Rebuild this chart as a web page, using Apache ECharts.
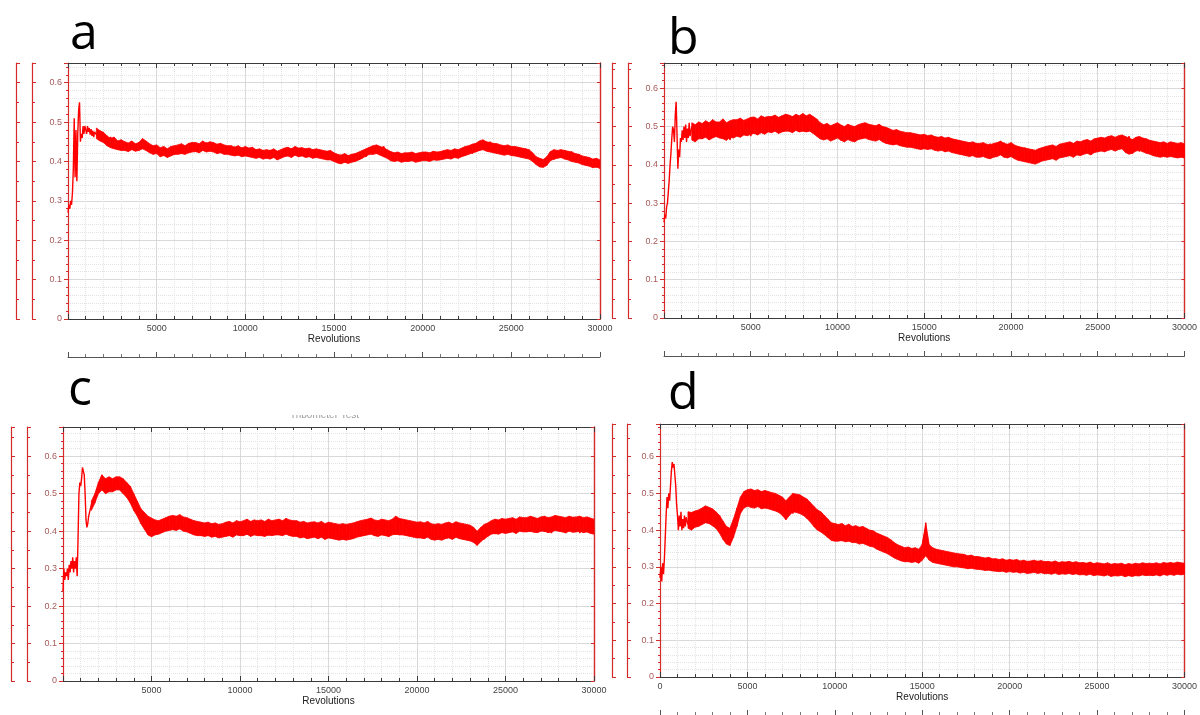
<!DOCTYPE html>
<html>
<head>
<meta charset="utf-8">
<script src="https://cdn.jsdelivr.net/npm/echarts@6/dist/echarts.min.js"></script>
<style>html,body{margin:0;padding:0;background:#fff;}#chart{width:1200px;height:715px;}</style>
</head>
<body>
<div id="chart"></div>
<script>
// Sampling grid (revolutions)
const revsEarly = Array.from({length: 31}, (_, i) => i * 50);        // 0..1500
const revsMain = Array.from({length: 143}, (_, i) => 1600 + i * 200); // 1600..30000
const revs = revsEarly.concat(revsMain);

const panelLabels = ['a', 'b', 'c', 'd'];
const xTicks = [0, 5000, 10000, 15000, 20000, 25000, 30000];
const yTicks = [0, 0.1, 0.2, 0.3, 0.4, 0.5, 0.6];
const xName = 'Revolutions';
const titleC = 'Tribometer Test';

// ---------- Panel a ----------
const aEarly = [0.27,0.29,0.28,0.30,0.29,0.32,0.38,0.51,0.36,0.48,0.35,0.47,0.53,0.55,0.45,0.47,0.46,0.49,0.47,0.49,0.48,0.47,0.49,0.475,0.485,0.468,0.482,0.465,0.478,0.462,0.475];
const aMain = [
 0.478,0.455,0.47,
 0.448,0.462,0.438,0.452,0.432, 0.446,0.428,0.445,0.432,0.447, 0.452,0.43,0.44,0.425,0.438,
 0.418,0.434,0.415,0.43,0.418, 0.436,0.42,0.438,0.422,0.44, 0.425,0.442,0.428,0.448,0.43,
 0.445,0.425,0.44,0.422,0.438, 0.42,0.437,0.418,0.435,0.42, 0.432,0.415,0.43,0.413,0.428,
 0.41,0.428,0.412,0.426,0.411, 0.43,0.414,0.433,0.417,0.432, 0.415,0.432,0.418,0.43,0.414,
 0.428,0.41,0.425,0.408,0.42, 0.4,0.416,0.398,0.414,0.402, 0.418,0.405,0.425,0.412,0.43,
 0.42,0.44,0.425,0.438,0.418, 0.422,0.405,0.42,0.402,0.418, 0.405,0.42,0.403,0.418,0.406,
 0.42,0.404,0.422,0.407,0.42, 0.41,0.426,0.412,0.428,0.413, 0.43,0.415,0.435,0.42,0.44,
 0.428,0.448,0.432,0.45,0.43, 0.44,0.422,0.438,0.42,0.436, 0.418,0.434,0.415,0.432,0.418,
 0.41,0.395,0.405,0.388,0.4, 0.422,0.405,0.425,0.41,0.428, 0.41,0.425,0.405,0.418,0.398,
 0.408,0.39,0.405,0.385,0.398
];
const aHi = [
 0.485,0.478,0.474,
 0.465,0.458,0.462,0.452,0.455, 0.45,0.447,0.452,0.445,0.448, 0.458,0.452,0.445,0.44,0.442,
 0.435,0.438,0.432,0.438,0.44, 0.442,0.445,0.44,0.446,0.448, 0.448,0.445,0.452,0.446,0.45,
 0.448,0.444,0.446,0.442,0.44, 0.44,0.436,0.44,0.434,0.438, 0.434,0.436,0.43,0.432,0.428,
 0.43,0.428,0.432,0.426,0.43, 0.434,0.436,0.432,0.438,0.434, 0.435,0.432,0.434,0.43,0.432,
 0.43,0.428,0.426,0.428,0.422, 0.418,0.416,0.42,0.415,0.418, 0.42,0.424,0.428,0.432,0.436,
 0.44,0.442,0.438,0.435,0.43, 0.425,0.422,0.424,0.42,0.422, 0.422,0.424,0.42,0.422,0.424,
 0.424,0.422,0.426,0.424,0.425, 0.428,0.43,0.428,0.432,0.43, 0.434,0.438,0.44,0.444,0.446,
 0.452,0.455,0.45,0.448,0.446, 0.445,0.442,0.44,0.442,0.438, 0.438,0.436,0.434,0.432,0.43,
 0.422,0.412,0.408,0.405,0.412, 0.425,0.43,0.428,0.43,0.428, 0.426,0.424,0.42,0.418,0.414,
 0.412,0.41,0.406,0.408,0.404
];
const aLo = [
 0.458,0.452,0.448,
 0.44,0.435,0.432,0.43,0.428, 0.428,0.425,0.43,0.426,0.428, 0.432,0.428,0.422,0.418,0.42,
 0.412,0.415,0.41,0.414,0.418, 0.418,0.42,0.418,0.422,0.424, 0.425,0.422,0.428,0.424,0.426,
 0.424,0.42,0.422,0.418,0.418, 0.416,0.414,0.416,0.412,0.414, 0.412,0.41,0.408,0.41,0.406,
 0.408,0.406,0.41,0.404,0.408, 0.412,0.414,0.41,0.416,0.412, 0.414,0.41,0.412,0.408,0.41,
 0.408,0.406,0.404,0.404,0.4, 0.396,0.394,0.398,0.395,0.398, 0.4,0.404,0.408,0.414,0.418,
 0.418,0.42,0.416,0.412,0.408, 0.402,0.4,0.402,0.398,0.4, 0.4,0.402,0.398,0.4,0.402,
 0.402,0.4,0.404,0.403,0.404, 0.406,0.408,0.406,0.41,0.408, 0.412,0.415,0.418,0.422,0.424,
 0.428,0.43,0.426,0.424,0.422, 0.42,0.418,0.416,0.418,0.415, 0.414,0.412,0.41,0.408,0.406,
 0.4,0.392,0.386,0.385,0.39, 0.402,0.406,0.408,0.41,0.406, 0.404,0.4,0.398,0.396,0.392,
 0.39,0.388,0.384,0.386,0.382
];

// ---------- Panel b ----------
const bEarly = [0.25,0.27,0.26,0.29,0.30,0.33,0.36,0.40,0.43,0.47,0.50,0.49,0.46,0.53,0.565,0.48,0.39,0.44,0.42,0.47,0.46,0.49,0.465,0.50,0.47,0.505,0.46,0.495,0.47,0.51,0.475];
const bMain = [
 0.5,0.47,0.51,
 0.468,0.508,0.472,0.515,0.475, 0.51,0.47,0.505,0.465,0.5, 0.478,0.515,0.48,0.512,0.475,
 0.518,0.482,0.52,0.485,0.515, 0.49,0.522,0.488,0.525,0.492, 0.52,0.49,0.527,0.488,0.522,
 0.492,0.523,0.49,0.515,0.475, 0.5,0.468,0.498,0.47,0.502, 0.465,0.495,0.468,0.498,0.466,
 0.5,0.47,0.505,0.472,0.502, 0.47,0.5,0.468,0.495,0.465, 0.488,0.458,0.485,0.455,0.482,
 0.452,0.48,0.45,0.478,0.448, 0.472,0.445,0.47,0.444,0.468, 0.44,0.466,0.442,0.465,0.438,
 0.46,0.432,0.458,0.43,0.455, 0.428,0.452,0.426,0.455,0.43, 0.455,0.428,0.458,0.43,0.45,
 0.422,0.448,0.42,0.445,0.418, 0.44,0.415,0.442,0.412,0.438, 0.42,0.448,0.422,0.45,0.425,
 0.452,0.428,0.455,0.43,0.456, 0.432,0.46,0.435,0.462,0.438, 0.465,0.438,0.468,0.442,0.47,
 0.445,0.472,0.44,0.475,0.43, 0.468,0.435,0.465,0.438,0.46, 0.428,0.455,0.425,0.452,0.43,
 0.455,0.425,0.45,0.428,0.445
];
const bHi = [
 0.51,0.505,0.512,
 0.508,0.515,0.51,0.518,0.512, 0.512,0.52,0.51,0.515,0.518, 0.518,0.522,0.516,0.52,0.524,
 0.525,0.52,0.528,0.524,0.526, 0.526,0.53,0.524,0.528,0.532, 0.53,0.526,0.532,0.528,0.534,
 0.528,0.532,0.526,0.52,0.51, 0.505,0.508,0.502,0.506,0.51, 0.504,0.5,0.506,0.502,0.5,
 0.505,0.508,0.51,0.506,0.504, 0.502,0.506,0.5,0.498,0.494, 0.49,0.492,0.488,0.486,0.484,
 0.484,0.482,0.48,0.478,0.48, 0.476,0.478,0.474,0.472,0.474, 0.47,0.472,0.468,0.466,0.464,
 0.462,0.46,0.458,0.46,0.456, 0.456,0.458,0.454,0.452,0.456, 0.458,0.462,0.456,0.454,0.458,
 0.452,0.448,0.446,0.444,0.442, 0.44,0.438,0.442,0.445,0.448, 0.45,0.452,0.448,0.454,0.456,
 0.458,0.46,0.456,0.462,0.46, 0.464,0.466,0.462,0.468,0.47, 0.472,0.47,0.474,0.476,0.472,
 0.476,0.478,0.474,0.47,0.466, 0.472,0.474,0.47,0.468,0.464, 0.462,0.46,0.458,0.46,0.456,
 0.46,0.458,0.456,0.458,0.455
];
const bLo = [
 0.465,0.46,0.468,
 0.468,0.472,0.465,0.47,0.474, 0.47,0.468,0.464,0.472,0.47, 0.475,0.472,0.478,0.476,0.48,
 0.482,0.478,0.484,0.48,0.486, 0.484,0.488,0.482,0.486,0.488, 0.488,0.484,0.49,0.486,0.488,
 0.486,0.488,0.482,0.475,0.468, 0.465,0.468,0.462,0.466,0.47, 0.464,0.46,0.466,0.462,0.46,
 0.466,0.468,0.47,0.466,0.464, 0.462,0.466,0.46,0.456,0.454, 0.452,0.454,0.45,0.448,0.446,
 0.446,0.444,0.442,0.44,0.442, 0.44,0.442,0.438,0.436,0.438, 0.434,0.436,0.432,0.43,0.428,
 0.426,0.424,0.422,0.424,0.42, 0.42,0.422,0.418,0.416,0.42, 0.422,0.426,0.42,0.418,0.422,
 0.416,0.412,0.41,0.408,0.406, 0.404,0.402,0.406,0.41,0.412, 0.414,0.416,0.412,0.418,0.42,
 0.422,0.424,0.42,0.426,0.424, 0.428,0.43,0.426,0.432,0.434, 0.436,0.434,0.438,0.44,0.436,
 0.44,0.442,0.432,0.428,0.43, 0.436,0.438,0.434,0.43,0.428, 0.424,0.422,0.42,0.422,0.42,
 0.422,0.42,0.418,0.42,0.418
];

// ---------- Panel c ----------
const cEarly = [0.24,0.30,0.27,0.29,0.28,0.30,0.27,0.31,0.29,0.32,0.30,0.33,0.29,0.32,0.30,0.33,0.28,0.38,0.50,0.53,0.52,0.54,0.57,0.575,0.55,0.50,0.43,0.41,0.42,0.44,0.45];
const cMain = [
 0.47,0.49,0.52,
 0.55,0.505,0.53,0.51,0.54, 0.515,0.535,0.5,0.51,0.475, 0.465,0.44,0.44,0.405,0.425,
 0.395,0.42,0.4,0.428,0.405, 0.43,0.408,0.435,0.41,0.432, 0.405,0.428,0.398,0.422,0.395,
 0.418,0.39,0.415,0.388,0.412, 0.395,0.42,0.392,0.418,0.396, 0.42,0.39,0.425,0.395,0.418,
 0.392,0.42,0.388,0.425,0.395, 0.422,0.39,0.428,0.394,0.42, 0.39,0.418,0.385,0.42,0.392,
 0.415,0.38,0.418,0.388,0.42, 0.39,0.415,0.385,0.412,0.382, 0.41,0.384,0.415,0.388,0.418,
 0.392,0.425,0.388,0.42,0.39, 0.418,0.385,0.42,0.39,0.43, 0.395,0.425,0.39,0.418,0.385,
 0.415,0.382,0.42,0.388,0.412, 0.38,0.41,0.385,0.415,0.39, 0.418,0.388,0.415,0.385,0.41,
 0.392,0.375,0.4,0.378,0.405, 0.42,0.392,0.425,0.398,0.43, 0.4,0.428,0.395,0.43,0.402,
 0.43,0.398,0.435,0.4,0.428, 0.398,0.432,0.395,0.428,0.4, 0.43,0.395,0.435,0.4,0.425,
 0.395,0.43,0.398,0.432,0.405
];
const cHi = [
 0.48,0.5,0.53,
 0.55,0.54,0.545,0.54,0.545, 0.545,0.54,0.53,0.52,0.5, 0.48,0.46,0.45,0.44,0.435,
 0.43,0.428,0.432,0.436,0.44, 0.442,0.44,0.444,0.438,0.436, 0.432,0.428,0.426,0.424,0.422,
 0.424,0.42,0.422,0.418,0.42, 0.424,0.426,0.422,0.428,0.425, 0.428,0.432,0.426,0.43,0.428,
 0.43,0.426,0.432,0.428,0.43, 0.432,0.428,0.434,0.43,0.428, 0.428,0.424,0.426,0.422,0.424,
 0.425,0.422,0.426,0.42,0.424, 0.422,0.42,0.418,0.42,0.418, 0.42,0.422,0.425,0.428,0.43,
 0.432,0.435,0.43,0.428,0.432, 0.43,0.428,0.432,0.44,0.434, 0.432,0.43,0.428,0.426,0.424,
 0.425,0.422,0.426,0.42,0.418, 0.42,0.418,0.422,0.424,0.42, 0.425,0.422,0.42,0.418,0.416,
 0.41,0.4,0.41,0.418,0.422, 0.428,0.432,0.43,0.434,0.432, 0.434,0.436,0.432,0.438,0.436,
 0.436,0.44,0.437,0.434,0.438, 0.44,0.436,0.438,0.442,0.44, 0.438,0.436,0.44,0.437,0.438,
 0.44,0.436,0.438,0.435,0.432
];
const cLo = [
 0.455,0.475,0.5,
 0.51,0.5,0.505,0.505,0.51, 0.51,0.5,0.49,0.475,0.455, 0.44,0.42,0.405,0.39,0.385,
 0.39,0.392,0.396,0.4,0.402, 0.404,0.402,0.406,0.4,0.398, 0.394,0.39,0.388,0.388,0.386,
 0.388,0.384,0.386,0.382,0.384, 0.386,0.388,0.384,0.39,0.388, 0.388,0.392,0.386,0.39,0.388,
 0.388,0.386,0.39,0.388,0.39, 0.39,0.388,0.392,0.388,0.386, 0.386,0.382,0.384,0.38,0.382,
 0.384,0.38,0.384,0.378,0.382, 0.38,0.378,0.376,0.378,0.376, 0.378,0.38,0.384,0.386,0.388,
 0.39,0.392,0.388,0.386,0.39, 0.388,0.386,0.39,0.392,0.39, 0.39,0.388,0.386,0.384,0.382,
 0.382,0.38,0.384,0.378,0.376, 0.378,0.376,0.38,0.382,0.378, 0.384,0.38,0.378,0.376,0.374,
 0.37,0.362,0.372,0.38,0.386, 0.392,0.394,0.392,0.396,0.394, 0.396,0.398,0.394,0.4,0.398,
 0.398,0.4,0.397,0.396,0.4, 0.4,0.396,0.398,0.402,0.4, 0.398,0.396,0.4,0.397,0.398,
 0.4,0.396,0.398,0.394,0.392
];

// ---------- Panel d ----------
const dEarly = [0.27,0.30,0.26,0.31,0.28,0.32,0.38,0.44,0.49,0.46,0.50,0.48,0.52,0.56,0.585,0.57,0.58,0.55,0.52,0.47,0.44,0.40,0.44,0.41,0.45,0.40,0.43,0.405,0.44,0.41,0.435];
const dMain = [
 0.415,0.445,0.42,
 0.45,0.425,0.465,0.43,0.455, 0.42,0.44,0.405,0.39,0.385, 0.41,0.44,0.465,0.485,0.5,
 0.47,0.505,0.468,0.505,0.47, 0.5,0.462,0.495,0.455,0.488, 0.44,0.47,0.445,0.49,0.455,
 0.485,0.45,0.47,0.435,0.455, 0.42,0.44,0.39,0.41,0.375, 0.4,0.37,0.405,0.372,0.4,
 0.368,0.398,0.365,0.395,0.362, 0.385,0.358,0.38,0.35,0.372, 0.345,0.36,0.328,0.35,0.322,
 0.345,0.318,0.342,0.32,0.36, 0.405,0.335,0.345,0.318,0.34, 0.315,0.338,0.31,0.333,0.308,
 0.33,0.305,0.328,0.302,0.326, 0.3,0.324,0.298,0.322,0.3, 0.322,0.296,0.32,0.295,0.318,
 0.294,0.318,0.293,0.316,0.292, 0.315,0.29,0.316,0.292,0.314, 0.29,0.312,0.288,0.31,0.289,
 0.31,0.287,0.312,0.29,0.308, 0.285,0.308,0.284,0.306,0.283, 0.305,0.282,0.306,0.28,0.304,
 0.28,0.303,0.278,0.305,0.282, 0.304,0.28,0.306,0.283,0.302, 0.282,0.305,0.28,0.307,0.284,
 0.306,0.282,0.31,0.285,0.3
];
const dHi = [
 0.45,0.448,0.452,
 0.455,0.46,0.466,0.462,0.458, 0.45,0.44,0.425,0.41,0.405, 0.43,0.46,0.49,0.505,0.51,
 0.512,0.508,0.51,0.505,0.508, 0.505,0.502,0.5,0.495,0.49, 0.48,0.49,0.5,0.498,0.496,
 0.49,0.485,0.475,0.465,0.455, 0.45,0.44,0.43,0.42,0.418, 0.415,0.418,0.412,0.416,0.41,
 0.412,0.408,0.41,0.405,0.4, 0.398,0.392,0.388,0.384,0.38, 0.374,0.366,0.36,0.356,0.352,
 0.354,0.35,0.352,0.348,0.36, 0.42,0.36,0.352,0.348,0.346, 0.344,0.342,0.34,0.338,0.336,
 0.335,0.334,0.33,0.332,0.328, 0.328,0.326,0.324,0.326,0.322, 0.322,0.32,0.322,0.318,0.32,
 0.318,0.32,0.316,0.318,0.315, 0.316,0.318,0.315,0.317,0.314, 0.315,0.313,0.316,0.312,0.314,
 0.313,0.315,0.312,0.314,0.311, 0.312,0.31,0.313,0.309,0.311, 0.31,0.308,0.311,0.307,0.309,
 0.308,0.31,0.306,0.309,0.307, 0.31,0.308,0.311,0.309,0.31, 0.309,0.311,0.308,0.312,0.31,
 0.312,0.31,0.313,0.311,0.31
];
const dLo = [
 0.405,0.4,0.408,
 0.41,0.415,0.42,0.418,0.412, 0.405,0.392,0.375,0.362,0.358, 0.38,0.41,0.445,0.46,0.465,
 0.462,0.46,0.464,0.458,0.46, 0.458,0.455,0.452,0.448,0.44, 0.428,0.44,0.45,0.448,0.445,
 0.44,0.432,0.422,0.41,0.4, 0.395,0.388,0.38,0.372,0.37, 0.37,0.372,0.368,0.37,0.366,
 0.366,0.362,0.364,0.36,0.356, 0.354,0.348,0.344,0.34,0.336, 0.33,0.324,0.32,0.316,0.314,
 0.314,0.312,0.314,0.31,0.318, 0.33,0.318,0.312,0.31,0.308, 0.306,0.304,0.302,0.3,0.3,
 0.298,0.297,0.295,0.296,0.294, 0.293,0.292,0.29,0.291,0.289, 0.288,0.287,0.288,0.285,0.287,
 0.285,0.286,0.283,0.285,0.282, 0.283,0.285,0.282,0.284,0.281, 0.282,0.28,0.283,0.279,0.281,
 0.28,0.282,0.279,0.281,0.278, 0.279,0.277,0.28,0.276,0.278, 0.277,0.275,0.278,0.274,0.276,
 0.275,0.277,0.273,0.276,0.274, 0.276,0.275,0.278,0.276,0.277, 0.276,0.278,0.275,0.279,0.277,
 0.279,0.277,0.28,0.278,0.28
];

const lineY = [aEarly.concat(aMain), bEarly.concat(bMain), cEarly.concat(cMain), dEarly.concat(dMain)];
const bandHi = [aHi, bHi, cHi, dHi];
const bandLo = [aLo, bLo, cLo, dLo];

// ---------- Layout ----------
const grids = [
  {left: 68, top: 63, width: 532, height: 256},
  {left: 664, top: 63, width: 533, height: 255},
  {left: 63, top: 427, width: 531, height: 254},
  {left: 660, top: 424, width: 534, height: 253}
];
const yMax = [0.65, 0.666, 0.678, 0.689];
const extraOff = [[52, 36], [52, 36], [52, 36], [48, 33]];
const bottomExtra = [38, 38, null, 38];
const showZeroX = [false, false, false, true];
const labelPos = [[70, 50], [668, 55], [68, 406], [668, 410]];

const RED = '#d42a2a';
const DARK = '#3a3a3a';
const xAxes = [], yAxes = [], series = [];
const isMajor = v => Math.abs(v * 10 - Math.round(v * 10)) < 1e-6;

function bandRenderer(n) {
  return function (params, api) {
    const k = params.dataIndexInside;
    if (k >= n - 1) return null;
    const pts = [
      api.coord([api.value(0, k), api.value(1, k)]),
      api.coord([api.value(0, k), api.value(2, k)]),
      api.coord([api.value(0, k + 1), api.value(2, k + 1)]),
      api.coord([api.value(0, k + 1), api.value(1, k + 1)])
    ];
    return {type: 'polygon', shape: {points: pts},
      style: {fill: '#ff0000', stroke: '#ff0000', lineWidth: 0.8}};
  };
}

grids.forEach((g, i) => {
  const xMainIdx = xAxes.length;
  xAxes.push({
    gridIndex: i, type: 'value', min: xTicks[0], max: xTicks[xTicks.length - 1], interval: 5000,
    position: 'bottom', name: xName, nameLocation: 'middle', nameGap: 15,
    nameTextStyle: {fontFamily: 'Liberation Sans', fontSize: 10, color: '#222'},
    axisLine: {onZero: false, lineStyle: {color: DARK, width: 1.2}},
    axisTick: {inside: true, length: 5, lineStyle: {color: DARK}},
    minorTick: {show: true, splitNumber: 5, length: 3, lineStyle: {color: DARK}},
    axisLabel: {fontFamily: 'Liberation Sans', fontSize: 9, color: '#444', margin: 5,
      formatter: v => (v === 0 && !showZeroX[i]) ? '' : String(v)},
    splitLine: {show: true, lineStyle: {color: '#d9d9d9', width: 1}},
    minorSplitLine: {show: true, lineStyle: {color: '#e3e3e3', type: 'dotted', width: 1}}
  });
  xAxes.push({
    gridIndex: i, type: 'value', min: 0, max: 30000, interval: 5000, position: 'top',
    axisLine: {onZero: false, lineStyle: {color: DARK, width: 1.2}},
    axisTick: {inside: true, length: 5, lineStyle: {color: DARK}},
    minorTick: {show: true, splitNumber: 5, length: 3, lineStyle: {color: DARK}},
    axisLabel: {show: false}, splitLine: {show: false}
  });
  if (bottomExtra[i] !== null) {
    xAxes.push({
      gridIndex: i, type: 'value', min: 0, max: 30000, interval: 5000, position: 'bottom', offset: bottomExtra[i],
      axisLine: {onZero: false, lineStyle: {color: '#555', width: 1}},
      axisTick: {inside: true, length: 5, lineStyle: {color: '#555'}},
      minorTick: {show: true, splitNumber: 5, length: 3, lineStyle: {color: '#777'}},
      axisLabel: {show: false}, splitLine: {show: false}
    });
  }
  const yMainIdx = yAxes.length;
  yAxes.push({
    gridIndex: i, type: 'value', min: 0, max: yMax[i], interval: 0.1, position: 'left',
    axisLine: {show: true, onZero: false, lineStyle: {color: RED, width: 1.2}},
    axisTick: {show: true, inside: false, length: 4, lineStyle: {color: RED}},
    minorTick: {show: true, splitNumber: 5, length: 2, lineStyle: {color: RED}},
    axisLabel: {fontFamily: 'Liberation Sans', fontSize: 9, color: '#a65a5a', margin: 6, showMaxLabel: false,
      formatter: v => isMajor(v) ? (v === 0 ? '0' : v.toFixed(1)) : ''},
    splitLine: {show: true, lineStyle: {color: '#d9d9d9', width: 1}},
    minorSplitLine: {show: true, lineStyle: {color: '#e3e3e3', type: 'dotted', width: 1}}
  });
  yAxes.push({
    gridIndex: i, type: 'value', min: 0, max: yMax[i], interval: 0.1, position: 'right',
    axisLine: {show: true, onZero: false, lineStyle: {color: RED, width: 1.4}},
    axisTick: {show: true, inside: true, length: 3, lineStyle: {color: RED}},
    axisLabel: {show: false}, splitLine: {show: false}
  });
  extraOff[i].forEach(off => {
    yAxes.push({
      gridIndex: i, type: 'value', min: 0, max: yMax[i], interval: 0.1, position: 'left', offset: off,
      axisLine: {show: true, onZero: false, lineStyle: {color: RED, width: 1.2}},
      axisTick: {show: true, inside: true, length: 4, lineStyle: {color: RED}},
      minorTick: {show: true, splitNumber: 2, length: 3, lineStyle: {color: RED}},
      axisLabel: {show: false}, splitLine: {show: false}
    });
  });
  // noise band between lower and upper envelope
  series.push({
    type: 'custom', xAxisIndex: xMainIdx, yAxisIndex: yMainIdx,
    data: revsMain.map((x, k) => [x, bandLo[i][k], bandHi[i][k]]),
    encode: {x: 0, y: [1, 2]},
    renderItem: bandRenderer(revsMain.length), z: 4, silent: true, clip: true
  });
  // measured trace
  series.push({
    type: 'line', xAxisIndex: xMainIdx, yAxisIndex: yMainIdx,
    data: revs.map((x, k) => [x, lineY[i][k]]),
    showSymbol: false, symbol: 'none', sampling: null,
    lineStyle: {color: '#ff0000', width: 1.4}, z: 5, silent: true
  });
});

const graphics = panelLabels.map((t, i) => ({
  type: 'text', left: labelPos[i][0], top: labelPos[i][1] - 40,
  style: {text: t, fontFamily: 'Open Sans', fontSize: 50, fill: '#000'}
}));
// partially clipped plot title in panel c
graphics.push({type: 'text', left: 290, top: 410, z: 1,
  style: {text: titleC, fontFamily: 'Liberation Sans', fontSize: 10, fill: '#999'}});
graphics.push({type: 'rect', shape: {x: 280, y: 400, width: 100, height: 15}, z: 2,
  style: {fill: '#fff'}});

const chart = echarts.init(document.getElementById('chart'), null, {renderer: 'canvas'});
chart.setOption({
  animation: false,
  backgroundColor: '#fff',
  grid: grids.map(g => Object.assign({containLabel: false}, g)),
  xAxis: xAxes,
  yAxis: yAxes,
  series: series,
  graphic: graphics
});
</script>
</body>
</html>
